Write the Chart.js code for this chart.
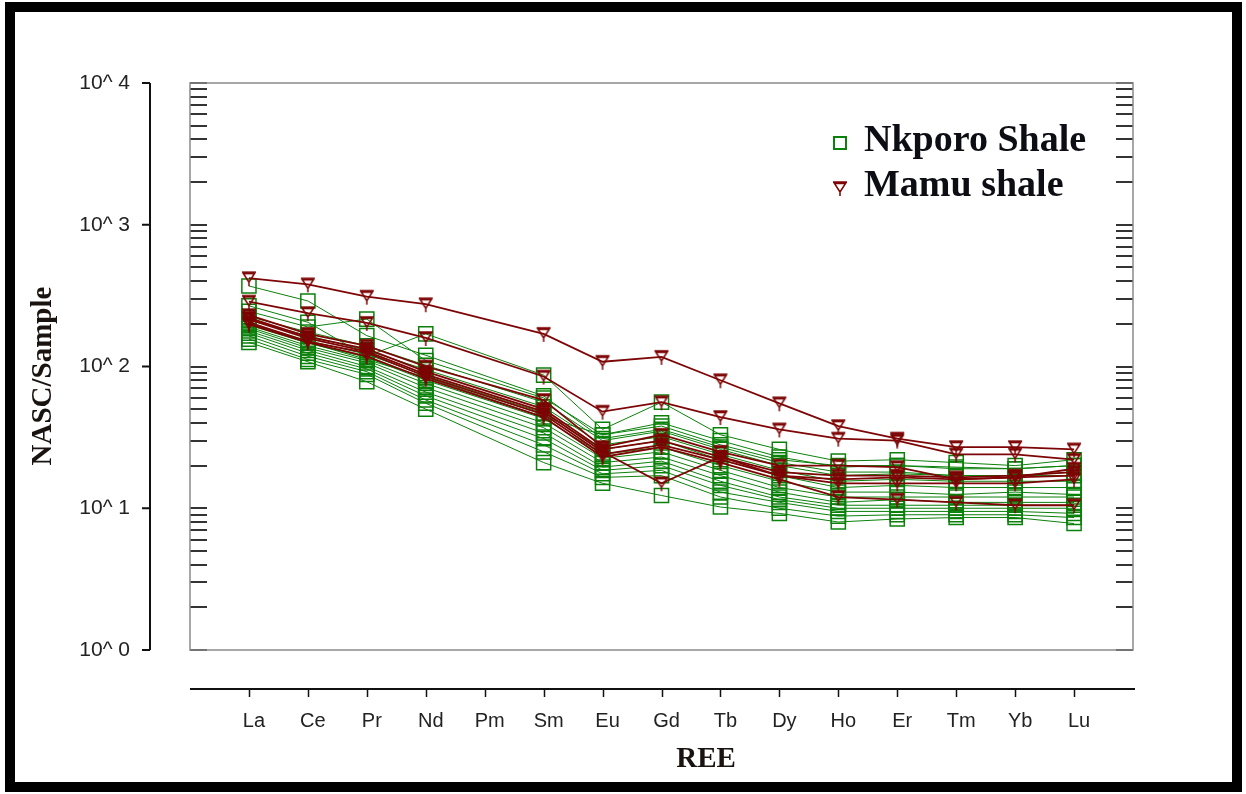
<!DOCTYPE html>
<html>
<head>
<meta charset="utf-8">
<title>REE - NASC/Sample</title>
<script src="https://cdn.jsdelivr.net/npm/chart.js@4.4.1/dist/chart.umd.min.js"></script>
<style>
  html, body { margin: 0; padding: 0; background: #fff; }
  #wrap { position: relative; width: 1246px; height: 794px; }
  #wrap canvas { position: absolute; left: 0; top: 0; }
  #frame { position: absolute; left: 5px; top: 2px; width: 1237px; height: 790px;
           box-sizing: border-box; border: 10px solid #000; pointer-events: none; }
</style>
</head>
<body>
<div id="wrap">
  <canvas id="ree_chart" width="1246" height="794"></canvas>
  <div id="frame"></div>
</div>
<script>
// rare earth elements along the x axis (Pm is not analysed)
var ree = ['La', 'Ce', 'Pr', 'Nd', 'Pm', 'Sm', 'Eu', 'Gd', 'Tb', 'Dy', 'Ho', 'Er', 'Tm', 'Yb', 'Lu'];

// log axis ticks: every 1..9 x 10^n, labels only on the decades
var yTicks = [];
[1, 10, 100, 1000].forEach(function (d) {
  for (var m = 1; m <= 9; m++) yTicks.push(m * d);
});
yTicks.push(10000);
var decadeLabels = ['10^ 0', '10^ 1', '10^ 2', '10^ 3', '10^ 4'];

// Nkporo Shale samples
var nkporo = [
  [370, 290, 165, 120, null, 62, 31, 36, 27, 21, 18, 18, 17, 17, 18],
  [268, 205, 118, 170, null, 87, 36, 56, 33, 26, 21.5, 22, 21, 20, 22],
  [245, 190, 216, 110, null, 60, 33, 40, 30, 23, 19.5, 20, 19.5, 19, 20],
  [225, 175, 140, 102, null, 56, 30, 35, 26, 20, 17, 17.5, 17, 17, 17],
  [212, 165, 130, 95, null, 52, 28, 32, 24, 18.5, 15.5, 16, 15.5, 15.5, 15.5],
  [202, 152, 122, 86, null, 47, 26, 30, 22, 17, 14, 14.5, 14, 14, 14],
  [196, 146, 116, 80, null, 43, 24, 27, 20, 15.5, 13, 13, 12.5, 13, 12.5],
  [190, 140, 110, 76, null, 40, 22.5, 25, 18.5, 14, 12, 12, 12, 12, 12],
  [185, 135, 106, 71, null, 37, 21, 23, 17, 13, 11, 11.5, 11, 11, 11],
  [178, 130, 100, 66, null, 34, 19.5, 21.5, 15.5, 12, 10.5, 10.5, 10.5, 10.5, 10.5],
  [172, 124, 96, 62, null, 31, 18.5, 20, 14.5, 11.5, 10, 10, 10, 10, 10],
  [164, 118, 92, 58, null, 28, 17.5, 18.5, 13, 11, 9.5, 9.5, 9.5, 9.5, 9.2],
  [156, 112, 88, 55, null, 25, 16.5, 17, 12, 10, 8.8, 9, 9, 9, 8.6],
  [148, 108, 78, 50, null, 21, 15, 12.3, 10.2, 9.2, 8, 8.4, 8.6, 8.6, 7.8],
  [200, 148, 112, 84, null, 44, 33, 38, 28, 22, 20, 20, 19, 19, 20]
];

// Mamu shale samples
var mamu = [
  [420, 380, 311, 275, null, 170, 108, 117, 80, 55, 38, 31, 27, 27, 26],
  [287, 238, 203, 159, null, 85, 48, 56, 44, 36, 31, 30, 24, 24, 22],
  [230, 170, 140, 100, null, 58, 27, 33, 25, 20, 20, 19.5, 16, 16.5, 19],
  [215, 158, 128, 88, null, 48, 25, 15, 23, 17, 15, 15, 15, 15, 16],
  [205, 150, 125, 85, null, 46, 24, 28, 22, 17, 16, 16.5, 16, 16.5, 17],
  [198, 148, 118, 82, null, 44, 23, 27, 21, 16, 12, 11.5, 11, 10.5, 10.5],
  [220, 162, 133, 92, null, 50, 26, 30, 23, 18, 17, 17, 16.5, 17, 18]
];

var green = '#0b800b';
var maroon = '#7d0505';

// open down-triangle with a little stem, used as the Mamu marker
function makeTriangle(color) {
  var c = document.createElement('canvas');
  c.width = 16; c.height = 18;
  var g = c.getContext('2d');
  g.strokeStyle = color;
  g.lineWidth = 1.5;
  g.beginPath();
  g.moveTo(1, 3); g.lineTo(15, 3);
  g.moveTo(2.5, 4.5); g.lineTo(13.5, 4.5); g.lineTo(8, 13); g.closePath();
  g.moveTo(8, 13); g.lineTo(8, 17);
  g.stroke();
  return c;
}
var triMark = makeTriangle(maroon);

function toPoints(s) {
  return s.map(function (v, i) { return { x: i, y: v }; });
}

function isDecade(v) {
  var e = Math.round(Math.log10(v));
  return Math.abs(Math.pow(10, e) - v) < 1e-9 ? e : -1;
}

var datasets = [];
mamu.forEach(function (s) {
  datasets.push({
    label: 'Mamu shale', data: toPoints(s),
    borderColor: maroon, borderWidth: 1.8,
    pointStyle: triMark, pointRadius: 8,
    spanGaps: true, fill: false, tension: 0
  });
});
nkporo.forEach(function (s) {
  datasets.push({
    label: 'Nkporo Shale', data: toPoints(s),
    borderColor: green, borderWidth: 1,
    pointStyle: 'rect', pointRadius: 10, pointBorderWidth: 1.5,
    pointBorderColor: green, pointBackgroundColor: 'rgba(0,0,0,0)',
    spanGaps: true, fill: false, tension: 0
  });
});

function setLogTicks(scale) {
  scale.ticks = yTicks.map(function (v) { return { value: v }; });
}

// fixed axis width; the big label padding must not push the plot down
function fitLeft(scale) {
  scale.width = 190;
  scale.paddingTop = 0;
  scale.paddingBottom = 0;
}

// box, the detached outer axes, axis titles and the legend
var frameAxes = {
  id: 'frameAxes',
  afterDraw: function (chart) {
    var ctx = chart.ctx, a = chart.chartArea;
    var x = chart.scales.x, y = chart.scales.y;
    ctx.save();

    ctx.strokeStyle = '#8a8a8a';
    ctx.lineWidth = 1.5;
    ctx.strokeRect(a.left, a.top, a.right - a.left, a.bottom - a.top);

    ctx.strokeStyle = '#111';
    ctx.lineWidth = 2;
    ctx.beginPath();
    ctx.moveTo(150, y.getPixelForValue(10000));
    ctx.lineTo(150, y.getPixelForValue(1));
    yTicks.forEach(function (v) {
      if (isDecade(v) < 0) return;
      var py = y.getPixelForValue(v);
      ctx.moveTo(142, py); ctx.lineTo(150, py);
    });
    ctx.stroke();

    var axisY = 689;
    ctx.beginPath();
    ctx.moveTo(a.left, axisY); ctx.lineTo(a.right + 2, axisY);
    ctx.stroke();
    ctx.lineWidth = 1.5;
    ctx.beginPath();
    ree.forEach(function (_, i) {
      var px = Math.round(x.getPixelForValue(i)) + 0.5;
      ctx.moveTo(px, axisY); ctx.lineTo(px, axisY + 8);
    });
    ctx.stroke();

    ctx.fillStyle = '#1a1410';
    ctx.font = 'bold 29px "Liberation Serif", serif';
    ctx.textAlign = 'center';
    ctx.textBaseline = 'middle';
    ctx.fillText('REE', 706, 760);
    ctx.save();
    ctx.translate(44, 376);
    ctx.rotate(-Math.PI / 2);
    ctx.fillText('NASC/Sample', 0, 0);
    ctx.restore();

    var lx = 840;
    ctx.strokeStyle = green;
    ctx.lineWidth = 2;
    ctx.strokeRect(lx - 6, 137, 12, 12);
    ctx.drawImage(triMark, lx - 8, 179);
    ctx.fillStyle = '#0d0d14';
    ctx.font = 'bold 38px "Liberation Serif", serif';
    ctx.textAlign = 'left';
    ctx.textBaseline = 'alphabetic';
    ctx.fillText('Nkporo Shale', lx + 24, 151);
    ctx.fillText('Mamu shale', lx + 24, 196);

    ctx.restore();
  }
};

var ctx = document.getElementById('ree_chart').getContext('2d');
var chart = new Chart(ctx, {
  type: 'line',
  data: { datasets: datasets },
  options: {
    responsive: false,
    animation: false,
    devicePixelRatio: 1,
    layout: { autoPadding: false, padding: { left: 0, top: 83, right: 113, bottom: 0 } },
    plugins: { legend: { display: false }, tooltip: { enabled: false } },
    scales: {
      x: {
        type: 'linear', min: -1, max: 15, bounds: 'data',
        afterBuildTicks: function (scale) {
          scale.ticks = ree.map(function (_, i) { return { value: i }; });
        },
        afterFit: function (scale) {
          scale.height = 144;
          scale.paddingLeft = 0;
          scale.paddingRight = 0;
        },
        border: { display: false },
        grid: { display: false, drawTicks: false },
        ticks: {
          autoSkip: false, maxRotation: 0, padding: 59, labelOffset: 5,
          color: '#222', font: { family: '"Liberation Sans", sans-serif', size: 20 },
          callback: function (v) { return ree[v]; }
        }
      },
      y: {
        type: 'logarithmic', position: 'left', min: 1, max: 10000, bounds: 'data',
        afterBuildTicks: setLogTicks,
        afterFit: fitLeft,
        border: { display: false },
        grid: { drawOnChartArea: false, drawTicks: true, tickLength: -17, color: '#333', lineWidth: 2 },
        ticks: {
          autoSkip: false, padding: 77,
          color: '#222', font: { family: '"Liberation Sans", sans-serif', size: 21 },
          callback: function (v) {
            var e = isDecade(v);
            return e >= 0 ? decadeLabels[e] : '';
          }
        }
      },
      yRight: {
        type: 'logarithmic', position: 'right', min: 1, max: 10000, bounds: 'data',
        afterBuildTicks: setLogTicks,
        afterFit: function (scale) {
          scale.width = 0;
          scale.paddingTop = 0;
          scale.paddingBottom = 0;
        },
        border: { display: false },
        grid: { drawOnChartArea: false, drawTicks: true, tickLength: -17, color: '#333', lineWidth: 2 },
        ticks: { display: false }
      }
    }
  },
  plugins: [frameAxes]
});
</script>
</body>
</html>
